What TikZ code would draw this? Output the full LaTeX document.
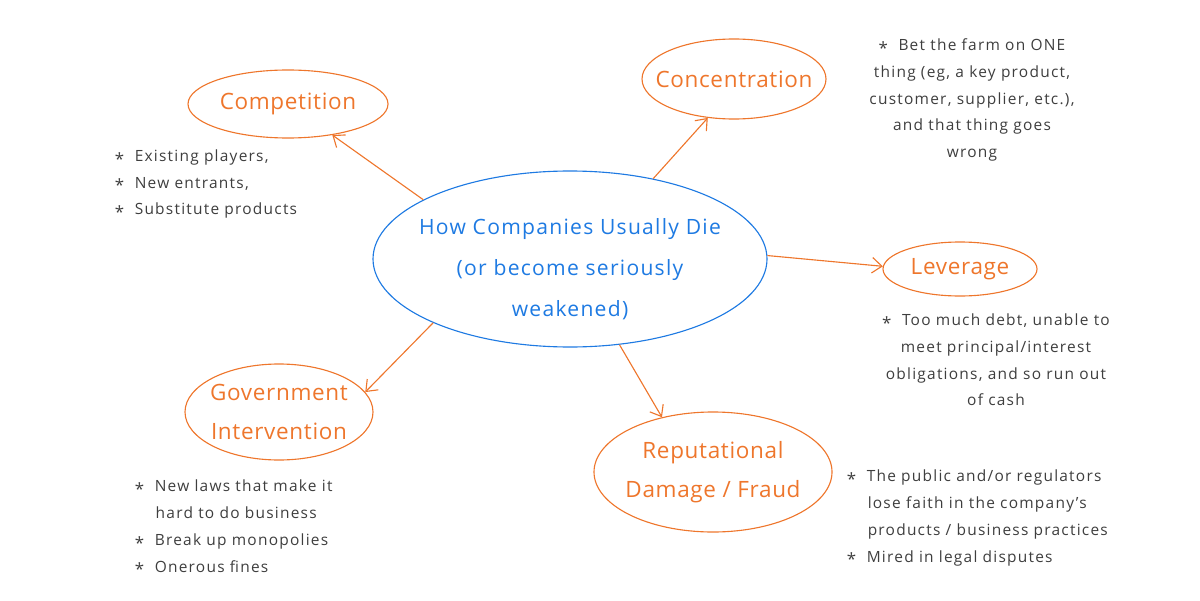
\documentclass[tikz,border=0pt]{standalone}
\usepackage{fontspec}
\setmainfont{Open Sans}
\newfontfamily\titlefont[LetterSpace=3]{Open Sans}
\newfontfamily\hubfont[LetterSpace=6]{Open Sans}
\newfontfamily\notefont[LetterSpace=8]{Open Sans}
\usepackage{tikz}
\usetikzlibrary{arrows.meta,shapes.geometric}
\definecolor{rustorange}{RGB}{238,118,44}
\definecolor{inkblue}{RGB}{30,122,226}
\definecolor{pencil}{RGB}{62,62,62}
\newcommand{\bul}{\raisebox{-0.45ex}{\large *}\ \ }
\newcommand{\hang}{\phantom{\large *\ \ }}

\begin{document}
\begin{tikzpicture}[
		oval/.style={ellipse,draw=rustorange,text=rustorange,line width=0.8pt,inner sep=-2cm,align=center,font=\titlefont\fontsize{16}{28}\selectfont},
		hub/.style={oval,draw=inkblue,text=inkblue,font=\hubfont\fontsize{15}{29}\selectfont},
		notes/.style={text=pencil,font=\notefont\fontsize{11}{19}\selectfont},
		link/.style={draw=rustorange,line width=0.8pt,-{Straight Barb[length=7pt,width=11pt]}}
	]
		\useasboundingbox (0,0) rectangle (30,15);
		% the hub
		\node[hub,minimum width=9.85cm,minimum height=4.4cm] (hub) at (14.25,8.525) {\\[-3pt]How Companies Usually Die\\(or become seriously\\weakened)};
		% the five causes
		\node[oval,minimum width=5cm,minimum height=1.7cm] (competition) at (7.2,12.4) {Competition};
		\node[oval,minimum width=4.6cm,minimum height=2cm] (concentration) at (18.35,13.025) {Concentration};
		\node[oval,minimum width=3.85cm,minimum height=1.35cm] (leverage) at (24,8.275) {Leverage};
		\node[oval,minimum width=4.7cm,minimum height=2.4cm] (government) at (6.975,4.7) {Government\\Intervention};
		\node[oval,minimum width=5.95cm,minimum height=3cm] (reputation) at (17.825,3.2) {Reputational\\Damage / Fraud};
		% what each one means
		\node[notes,anchor=west,align=left] (competitionnotes) at (2.75,10.4) {\bul Existing players,\\\bul New entrants,\\\bul Substitute products};
		\node[notes,align=center] (concentrationnotes) at (24.3,12.5) {\bul Bet the farm on ONE\\thing (eg, a key product,\\customer, supplier, etc.),\\and that thing goes\\wrong};
		\node[notes,align=center] (leveragenotes) at (24.9,6) {\bul Too much debt, unable to\\meet principal/interest\\obligations, and so run out\\of cash};
		\node[notes,anchor=west,align=left] (governmentnotes) at (3.25,1.8) {\bul New laws that make it\\\hang hard to do business\\\bul Break up monopolies\\\bul Onerous fines};
		\node[notes,anchor=west,align=left] (reputationnotes) at (21.05,2.05) {\bul The public and/or regulators\\\hang lose faith in the company’s\\\hang products / business practices\\\bul Mired in legal disputes};
		% arrows out of the hub
		\draw[link] (hub.158) -- (competition.325);
		\draw[link] (hub.44) -- (concentration.236);
		\draw[link] (hub.1) -- (leverage.178);
		\draw[link] (hub.205) -- (government.13);
		\draw[link] (hub.300) -- (reputation.133);
	\end{tikzpicture}
\end{document}
